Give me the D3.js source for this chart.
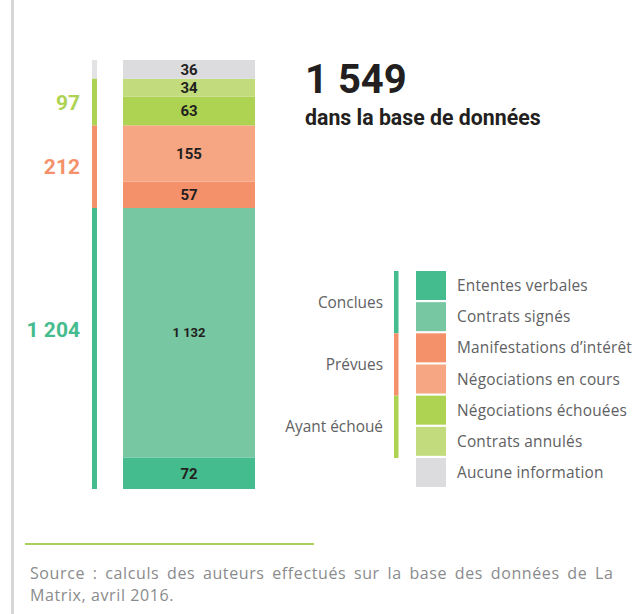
<!DOCTYPE html>
<html>
<head>
<meta charset="utf-8">
<script src="https://cdn.jsdelivr.net/npm/d3@7"></script>
<style>
  body { margin: 0; background: #fff; }
  svg { display: block; }
</style>
</head>
<body>
<div id="chart"></div>
<script>
// categories, bottom of the bar first (same order as legend top-down)
var categories = ["Ententes verbales", "Contrats signés", "Manifestations d’intérêt",
  "Négociations en cours", "Négociations échouées", "Contrats annulés", "Aucune information"];
var values = [72, 1132, 57, 155, 63, 34, 36];
var colors = ["#45bc8e", "#76c7a2", "#f5916a", "#f6a682", "#aed352", "#c2db7c", "#dcdcde"];

var groupNames = ["Conclues", "Prévues", "Ayant échoué"];
var groupTotals = ["1 204", "212", "97"];
var groupMembers = [[0, 1], [2, 3], [4, 5]];
var groupColors = ["#45bc8e", "#f5916a", "#aed352"];

var totalLabel = "1 549";
var subtitle = "dans la base de données";
var source = ["Source : calculs des auteurs effectués sur la base des données de La", "Matrix, avril 2016."];

var width = 637, height = 614;

var svg = d3.select("#chart").append("svg")
  .attr("width", width)
  .attr("height", height);

// page rule on the left
svg.append("rect").attr("x", 11).attr("y", 0).attr("width", 3).attr("height", height).attr("fill", "#d6d6d6");

// segment heights are drawn on a compressed (power) scale, like the original graphic
var pow = d3.scalePow().exponent(0.75).domain([0, 1]).range([0, 1]);
var weights = values.map(function(v) { return pow(v); });
var cum = [0];
weights.forEach(function(w, i) { cum.push(cum[i] + w); });

var y = d3.scaleLinear().domain([0, cum[cum.length - 1]]).range([489, 60]);
var x = d3.scaleBand().domain(["bar"]).range([123, 255]);

var segs = values.map(function(v, i) {
  return { v: v, i: i, y0: cum[i], y1: cum[i + 1] };
});

var fmt = function(v) { return d3.format(",")(v).replace(/,/g, " "); };

svg.selectAll("rect.seg")
  .data(segs)
  .enter().append("rect")
  .attr("class", "seg")
  .attr("x", x("bar"))
  .attr("width", x.bandwidth())
  .attr("y", function(d) { return y(d.y1); })
  .attr("height", function(d) { return y(d.y0) - y(d.y1); })
  .attr("fill", function(d) { return colors[d.i]; });

svg.selectAll("text.seg")
  .data(segs)
  .enter().append("text")
  .attr("class", "seg")
  .attr("x", x("bar") + x.bandwidth() / 2)
  .attr("y", function(d) { return (y(d.y0) + y(d.y1)) / 2; })
  .attr("dy", "0.36em")
  .attr("text-anchor", "middle")
  .style("font-family", "Roboto, sans-serif")
  .style("font-weight", "bold")
  .style("font-size", function(d) { return d.v > 999 ? "13px" : "15px"; })
  .attr("fill", "#231f20")
  .text(function(d) { return fmt(d.v); });

// group bar left of the stack
var groups = groupNames.map(function(n, g) {
  var m = groupMembers[g];
  return { g: g, y0: cum[m[0]], y1: cum[m[m.length - 1] + 1] };
});
var last = values.length - 1;

svg.append("rect")
  .attr("x", 92).attr("width", 5)
  .attr("y", y(cum[last + 1])).attr("height", y(cum[last]) - y(cum[last + 1]))
  .attr("fill", "#e3e3e5");

svg.selectAll("rect.grp")
  .data(groups)
  .enter().append("rect")
  .attr("class", "grp")
  .attr("x", 92).attr("width", 5)
  .attr("y", function(d) { return y(d.y1); })
  .attr("height", function(d) { return y(d.y0) - y(d.y1); })
  .attr("fill", function(d) { return groupColors[d.g]; });

svg.selectAll("text.grp")
  .data(groups)
  .enter().append("text")
  .attr("class", "grp")
  .attr("x", 80)
  .attr("y", function(d) {
    // the big group is labelled level with its largest segment
    if (d.g === 0) return (y(cum[1]) + y(cum[2])) / 2 - 3;
    return (y(d.y0) + y(d.y1)) / 2;
  })
  .attr("dy", "0.36em")
  .attr("text-anchor", "end")
  .style("font-family", "Roboto, sans-serif")
  .style("font-weight", "bold")
  .style("font-size", "21px")
  .attr("fill", function(d) { return groupColors[d.g]; })
  .text(function(d) { return groupTotals[d.g]; });

// headline
svg.append("text")
  .attr("x", 305).attr("y", 93)
  .style("font-family", "Roboto, sans-serif")
  .style("font-weight", "bold")
  .style("font-size", "40px")
  .attr("fill", "#231f20")
  .text(totalLabel);

svg.append("text")
  .attr("x", 305).attr("y", 125)
  .style("font-family", "Roboto, sans-serif")
  .style("font-weight", "bold")
  .style("font-size", "21.3px")
  .attr("fill", "#231f20")
  .text(subtitle);

// legend
var ly = d3.scaleBand().domain(d3.range(categories.length)).range([271, 487]).paddingInner(0.07);

var legend = svg.selectAll(".legend")
  .data(categories)
  .enter().append("g")
  .attr("class", "legend")
  .attr("transform", function(d, i) { return "translate(0," + ly(i) + ")"; });

legend.append("rect")
  .attr("x", 416)
  .attr("width", 30)
  .attr("height", ly.bandwidth())
  .attr("fill", function(d, i) { return colors[i]; });

legend.append("text")
  .attr("x", 457)
  .attr("y", ly.bandwidth() / 2)
  .attr("dy", "0.36em")
  .style("font-family", "'Open Sans', sans-serif")
  .style("font-size", "15.4px")
  .style("letter-spacing", "0.2px")
  .attr("fill", "#606163")
  .text(function(d) { return d; });

var step = ly.step();
groups.forEach(function(d) {
  var m = groupMembers[d.g];
  var top = ly(m[0]);
  var bot = ly(m[m.length - 1]) + step;
  svg.append("rect")
    .attr("x", 394).attr("width", 4.5)
    .attr("y", top).attr("height", bot - top)
    .attr("fill", groupColors[d.g]);
  svg.append("text")
    .attr("x", 383)
    .attr("y", (top + bot) / 2)
    .attr("dy", "0.36em")
    .attr("text-anchor", "end")
    .style("font-family", "'Open Sans', sans-serif")
    .style("font-size", "15.4px")
    .attr("fill", "#606163")
    .text(groupNames[d.g]);
});

// footer
svg.append("line")
  .attr("x1", 25).attr("x2", 314)
  .attr("y1", 544).attr("y2", 544)
  .attr("stroke", "#a8d05a").attr("stroke-width", 2);

svg.selectAll("text.src")
  .data(source)
  .enter().append("text")
  .attr("class", "src")
  .attr("x", 30)
  .attr("y", function(d, i) { return 579 + i * 22; })
  .style("font-family", "'Open Sans', sans-serif")
  .style("font-size", "16px")
  .style("letter-spacing", "0.6px")
  .style("word-spacing", function(d, i) { return i === 0 ? "3px" : "0px"; })
  .attr("fill", "#8a8b8d")
  .text(function(d) { return d; });
</script>
</body>
</html>
